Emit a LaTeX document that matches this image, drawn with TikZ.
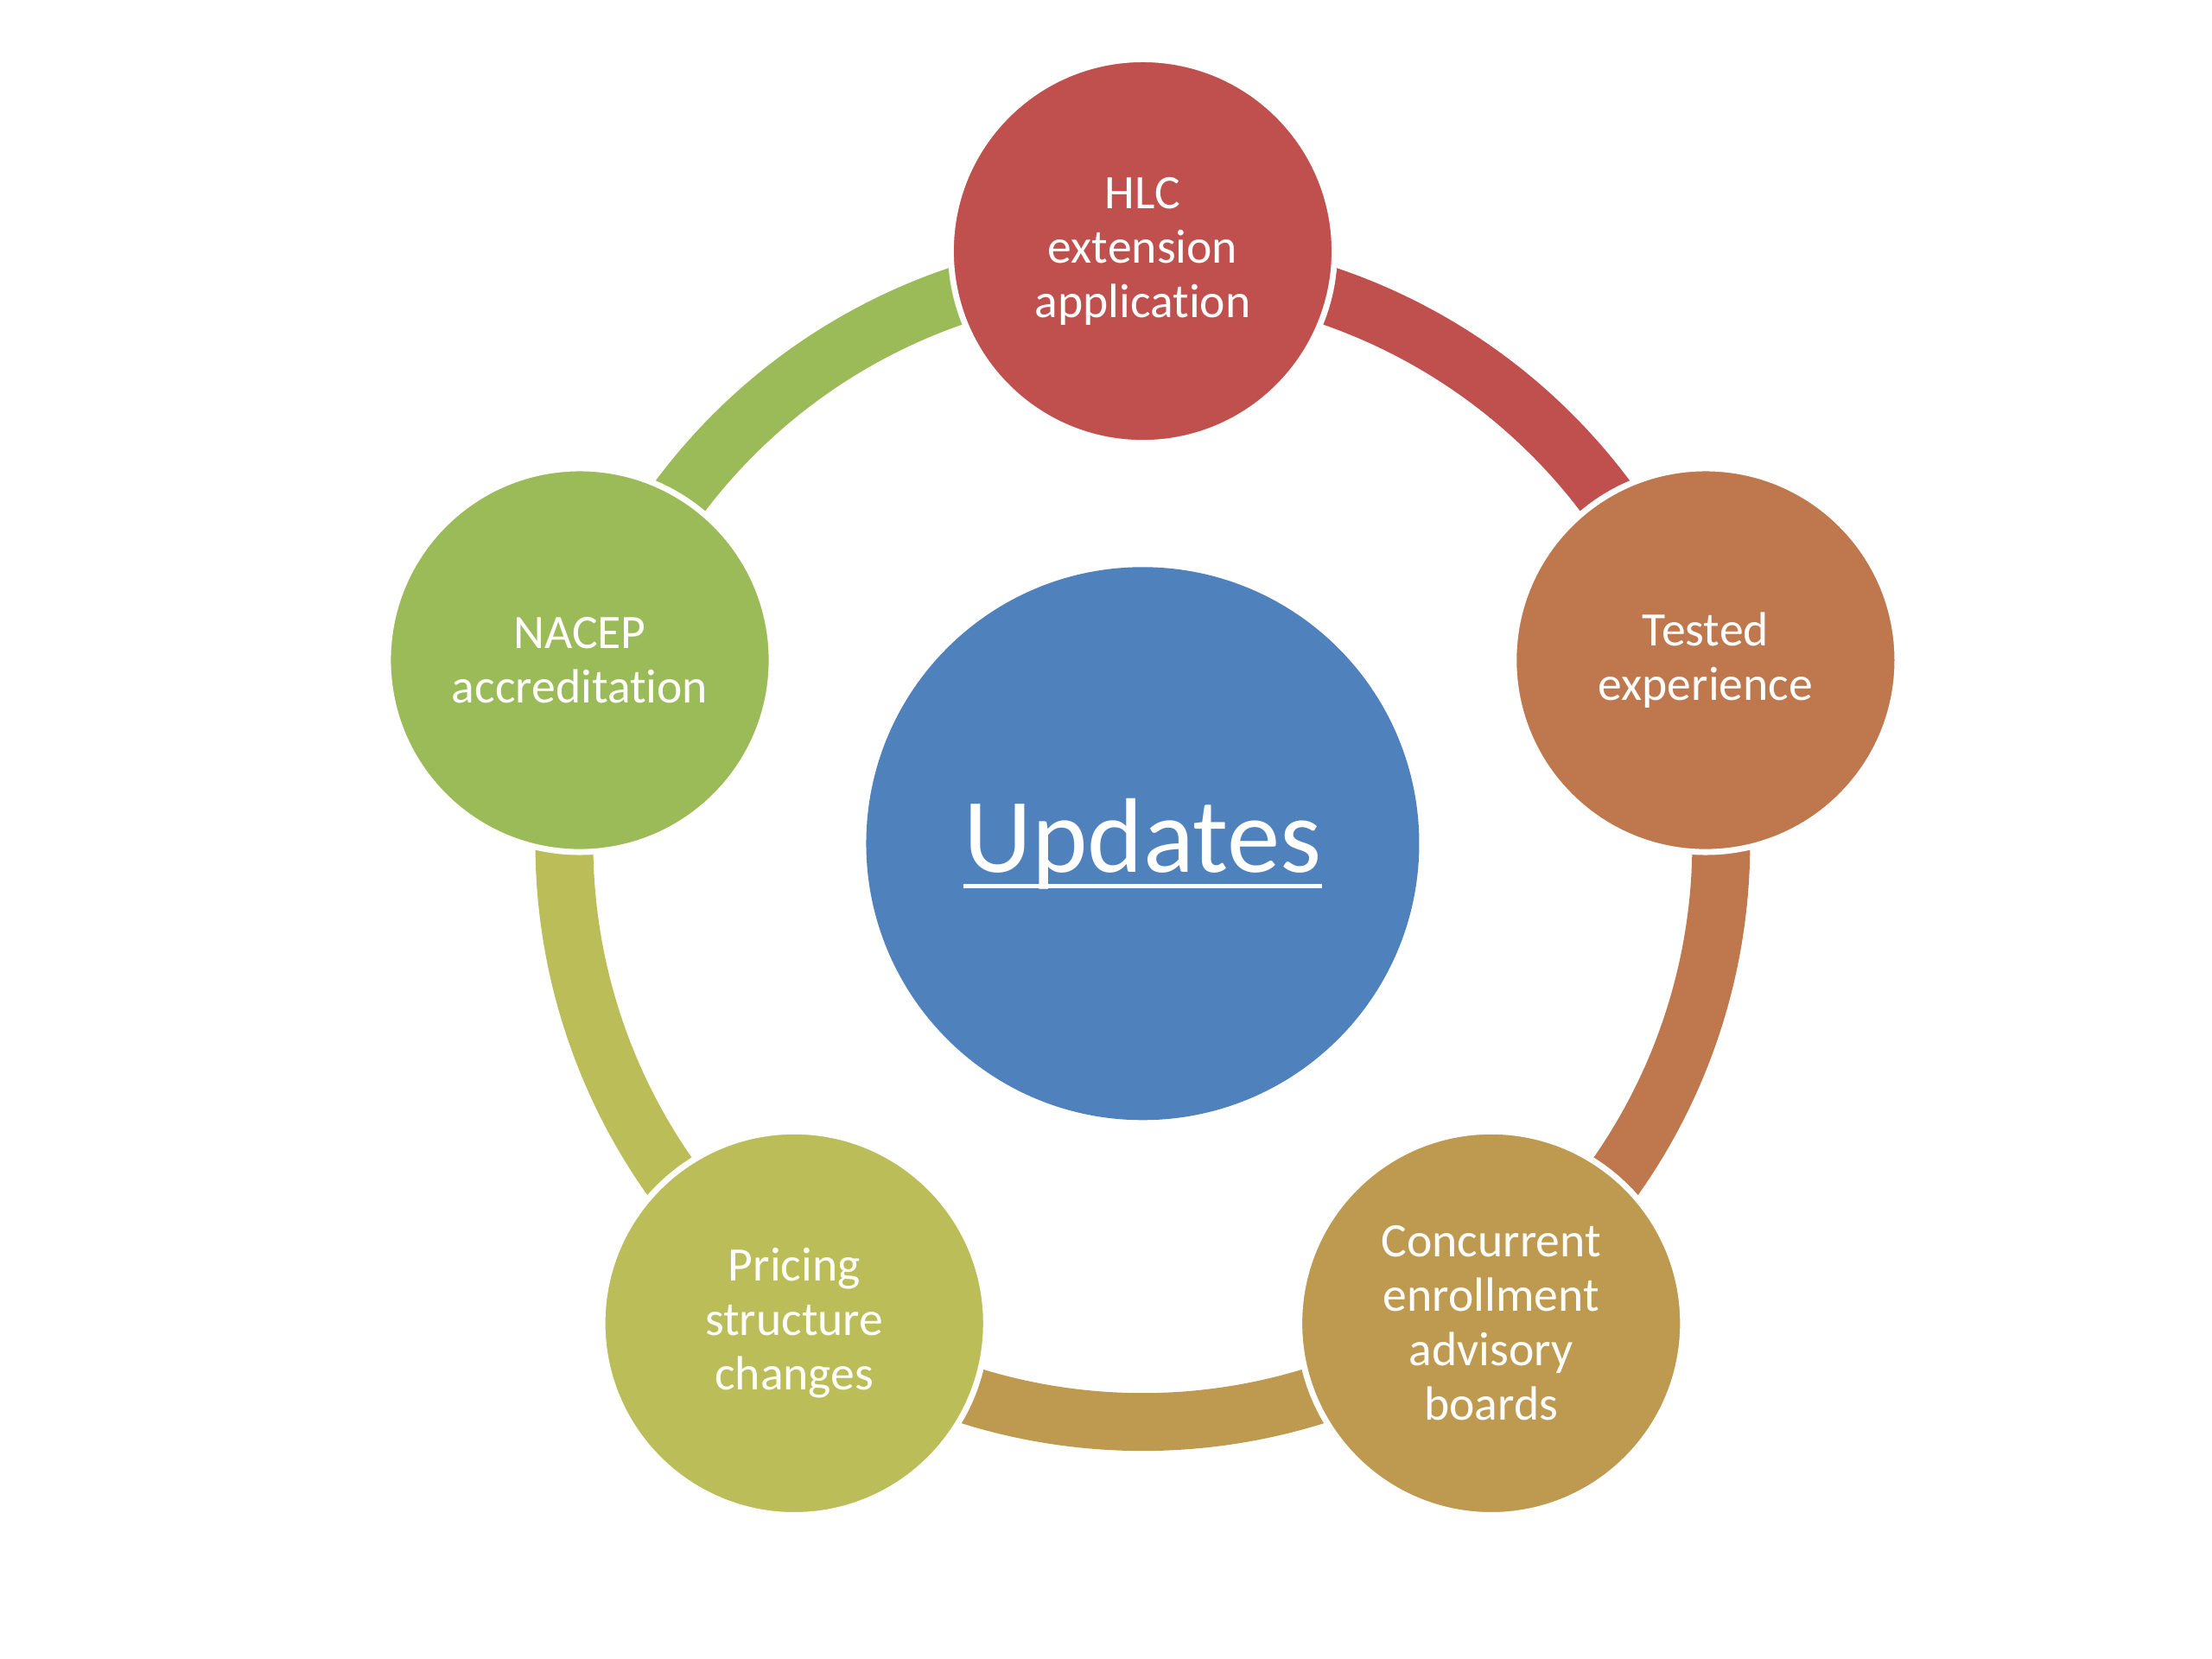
\documentclass[tikz,border=0pt]{standalone}
\usepackage{fontspec}
\setmainfont{Carlito}[Ligatures=NoCommon]
\usepackage{tikz}
\usetikzlibrary{backgrounds}
\definecolor{cycblue}{HTML}{4F81BD}
\definecolor{cycred}{HTML}{C0504D}
\definecolor{cycorange}{HTML}{BF784E}
\definecolor{cyctan}{HTML}{BE9A50}
\definecolor{cycolive}{HTML}{BBBD58}
\definecolor{cycgreen}{HTML}{9BBB59}
\newcommand{\ulword}[1]{\setbox0\hbox{#1}\rlap{\rule[-3.3pt]{\wd0}{0.95pt}}\box0}

\begin{document}
\begin{tikzpicture}[
  item/.style={circle, draw=white, line width=1.2pt, minimum size=27.2mm, inner sep=0pt,
               text=white, align=center, font=\fontsize{9.7}{11}\selectfont},
  hub/.style={circle, fill=cycblue, minimum size=39.2mm, inner sep=0pt, text=white,
              font=\fontsize{21.4}{24}\selectfont},
  ring/.style={line width=4.1mm},
]
\useasboundingbox (0,0) rectangle (15.68,11.76);
\node[hub] (upd) at (8.10,5.78) {\ulword{Updates}};
\node[item, fill=cycred] (hlc) at (8.10,9.98) {HLC\\extension\\application};
\node[item, fill=cycorange] (tested) at (12.09,7.08) {Tested\\experience};
\node[item, fill=cyctan] (conc) at (10.57,2.38) {Concurrent\\enrollment\\advisory\\boards};
\node[item, fill=cycolive] (pricing) at (5.63,2.38) {Pricing\\structure\\changes};
\node[item, fill=cycgreen] (nacep) at (4.11,7.08) {NACEP\\accreditation};
\begin{scope}[on background layer]
\draw[ring, cycred] (upd.center) ++(90:4.1) arc[start angle=90, end angle=18, radius=4.1];
\draw[ring, cycorange] (upd.center) ++(18:4.1) arc[start angle=18, end angle=-54, radius=4.1];
\draw[ring, cyctan] (upd.center) ++(-54:4.1) arc[start angle=-54, end angle=-126, radius=4.1];
\draw[ring, cycolive] (upd.center) ++(-126:4.1) arc[start angle=-126, end angle=-198, radius=4.1];
\draw[ring, cycgreen] (upd.center) ++(162:4.1) arc[start angle=162, end angle=90, radius=4.1];
\end{scope}
\end{tikzpicture}
\end{document}
